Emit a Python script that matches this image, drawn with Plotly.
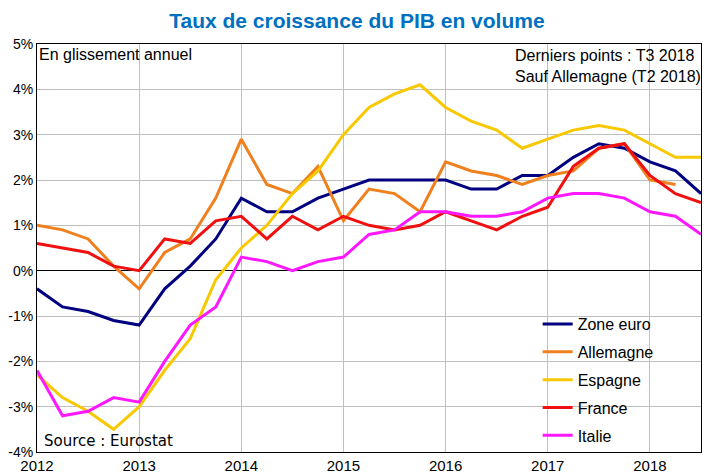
import plotly.graph_objects as go

quarters = ["2012T1", "2012T2", "2012T3", "2012T4",
            "2013T1", "2013T2", "2013T3", "2013T4",
            "2014T1", "2014T2", "2014T3", "2014T4",
            "2015T1", "2015T2", "2015T3", "2015T4",
            "2016T1", "2016T2", "2016T3", "2016T4",
            "2017T1", "2017T2", "2017T3", "2017T4",
            "2018T1", "2018T2", "2018T3"]

zone_euro = [-0.4, -0.8, -0.9, -1.1, -1.2, -0.4, 0.1, 0.7,
             1.6, 1.3, 1.3, 1.6, 1.8, 2.0, 2.0, 2.0,
             2.0, 1.8, 1.8, 2.1, 2.1, 2.5, 2.8, 2.7,
             2.4, 2.2, 1.7]
allemagne = [1.0, 0.9, 0.7, 0.1, -0.4, 0.4, 0.7, 1.6,
             2.9, 1.9, 1.7, 2.3, 1.1, 1.8, 1.7, 1.3,
             2.4, 2.2, 2.1, 1.9, 2.1, 2.2, 2.7, 2.8,
             2.0, 1.9]
espagne = [-2.3, -2.8, -3.1, -3.5, -3.0, -2.2, -1.5, -0.2,
           0.5, 1.0, 1.7, 2.2, 3.0, 3.6, 3.9, 4.1,
           3.6, 3.3, 3.1, 2.7, 2.9, 3.1, 3.2, 3.1,
           2.8, 2.5, 2.5]
france = [0.6, 0.5, 0.4, 0.1, 0.0, 0.7, 0.6, 1.1,
          1.2, 0.7, 1.2, 0.9, 1.2, 1.0, 0.9, 1.0,
          1.3, 1.1, 0.9, 1.2, 1.4, 2.3, 2.7, 2.8,
          2.1, 1.7, 1.5]
italie = [-2.2, -3.2, -3.1, -2.8, -2.9, -2.0, -1.2, -0.8,
          0.3, 0.2, 0.0, 0.2, 0.3, 0.8, 0.9, 1.3,
          1.3, 1.2, 1.2, 1.3, 1.6, 1.7, 1.7, 1.6,
          1.3, 1.2, 0.8]

series = [
    ("Zone euro", zone_euro, "#000080"),
    ("Allemagne", allemagne, "#F0801E"),
    ("Espagne", espagne, "#F8C800"),
    ("France", france, "#F01010"),
    ("Italie", italie, "#FF18FF"),
]

year_ticks = [2012, 2013, 2014, 2015, 2016, 2017, 2018]
pct_ticks = [-4, -3, -2, -1, 0, 1, 2, 3, 4, 5]


def q_to_x(q):
    return int(q[:4]) + (int(q[5]) - 1) * 0.25


xs = [q_to_x(q) for q in quarters]

fig = go.Figure()
for i, (name, vals, color) in enumerate(series):
    fig.add_trace(go.Scatter(
        x=xs[:len(vals)], y=vals, mode="lines", name=name,
        legendgroup="g%d" % i,
        line=dict(color=color, width=3),
    ))

# page body has an 8px default margin, so the figure is sized to fit
fig.update_layout(
    width=702, height=468,
    margin=dict(l=29, r=9, t=36, b=24),
    paper_bgcolor="white", plot_bgcolor="white",
    font=dict(family="Liberation Sans, Arial, sans-serif", size=15, color="black"),
    title=dict(text="<b>Taux de croissance du PIB en volume</b>",
               x=0.497, xanchor="center", y=0.972, yanchor="middle",
               font=dict(size=21, color="#0070C0")),
    showlegend=True,
    legend=dict(x=0.754, y=0.355, xanchor="left", yanchor="top",
                bgcolor="rgba(0,0,0,0)", tracegroupgap=4,
                font=dict(size=16), itemwidth=30),
    xaxis=dict(range=[2012, 2018.5], tickvals=year_ticks,
               ticktext=[str(y) for y in year_ticks], automargin=False,
               showgrid=True, gridcolor="#BFBFBF", gridwidth=1,
               zeroline=False, showline=True, linecolor="black",
               linewidth=1, mirror=True, ticks="", tickfont=dict(size=15)),
    yaxis=dict(range=[-4, 5], tickvals=pct_ticks,
               ticktext=["%d%%" % v for v in pct_ticks], automargin=False,
               showgrid=True, gridcolor="#BFBFBF", gridwidth=1,
               zeroline=True, zerolinecolor="black", zerolinewidth=1,
               showline=True, linecolor="black", linewidth=1, mirror=True,
               ticks="", tickfont=dict(size=14)),
    annotations=[
        dict(text="En glissement annuel", xref="paper", yref="paper",
             x=0.0, y=1.0, xanchor="left", yanchor="top", showarrow=False,
             font=dict(size=16)),
        dict(text="Derniers points : T3 2018<br>Sauf Allemagne (T2 2018)",
             xref="paper", yref="paper", x=1.003, y=0.998, xanchor="right",
             yanchor="top", showarrow=False, align="left",
             font=dict(size=16)),
        dict(text="Source : Eurostat", xref="paper", yref="paper",
             x=0.008, y=0.0, xanchor="left", yanchor="bottom",
             showarrow=False, font=dict(size=15, family="DejaVu Sans")),
    ],
)

fig.write_html("out.html")
